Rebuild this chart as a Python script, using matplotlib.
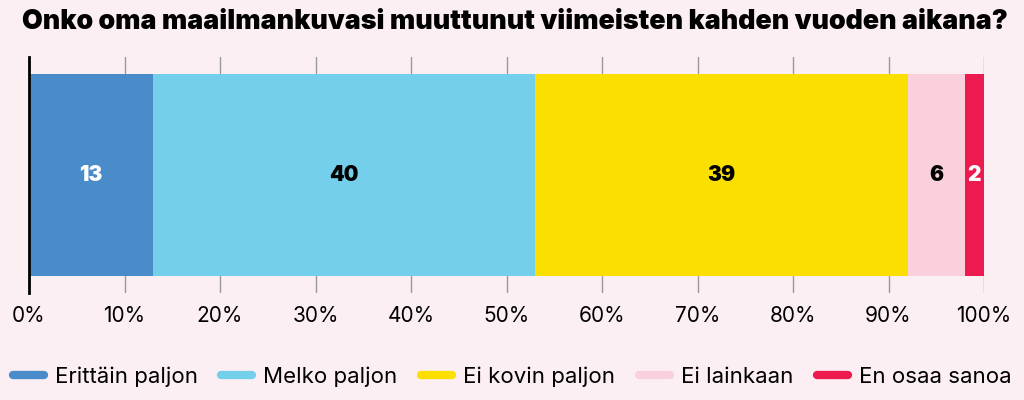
import matplotlib.pyplot as plt
from matplotlib.lines import Line2D

# data
categories = ["Erittäin paljon", "Melko paljon", "Ei kovin paljon", "Ei lainkaan", "En osaa sanoa"]
values = [13, 40, 39, 6, 2]
colors = ["#4A8BC9", "#74CFEB", "#FADF00", "#FAD0DC", "#EC1A4E"]
label_colors = ["white", "black", "black", "black", "white"]
ticks = [0, 10, 20, 30, 40, 50, 60, 70, 80, 90, 100]
title = "Onko oma maailmankuvasi muuttunut viimeisten kahden vuoden aikana?"

bg = "#FCEFF3"
plt.rcParams['font.family'] = ['Inter', 'DejaVu Sans']

fig = plt.figure(figsize=(10.24, 4.0), dpi=100, facecolor=bg)
ax = fig.add_axes([29 / 1024, 1 - 293 / 400, (984 - 29) / 1024, 236 / 400])
ax.set_facecolor(bg)

left = 0
for cat, val, col, lc in zip(categories, values, colors, label_colors):
    ax.barh(0, val, left=left, height=0.856, color=col, zorder=2)
    ax.text(left + val / 2, 0, str(val), ha='center', va='center',
            color=lc, fontsize=15, fontweight='black', zorder=3)
    left += val

ax.set_xlim(0, 100)
ax.set_ylim(-0.5, 0.5)
ax.set_yticks([])
ax.set_xticks(ticks)
ax.set_xticklabels([f"{t}%" for t in ticks], fontsize=15)
ax.tick_params(axis='x', length=0, pad=9)
ax.xaxis.grid(True, color="#999999", linewidth=1, zorder=1)
for s in ['top', 'right', 'bottom']:
    ax.spines[s].set_visible(False)
ax.spines['left'].set_color('black')
ax.spines['left'].set_linewidth(2)
ax.spines['left'].set_zorder(4)

fig.text(22 / 1024, 1 - 22 / 400, title, fontsize=19.3, fontweight='black',
         ha='left', va='center')

handles = [Line2D([0], [0], color=c, linewidth=6, solid_capstyle='round') for c in colors]
fig.legend(handles, categories, loc='center', bbox_to_anchor=(0.5, 1 - 377 / 400),
           ncol=5, frameon=False, fontsize=16, handlelength=1.4,
           handletextpad=0.5, columnspacing=1.05)

fig.savefig("out.png", dpi=100, facecolor=bg)
